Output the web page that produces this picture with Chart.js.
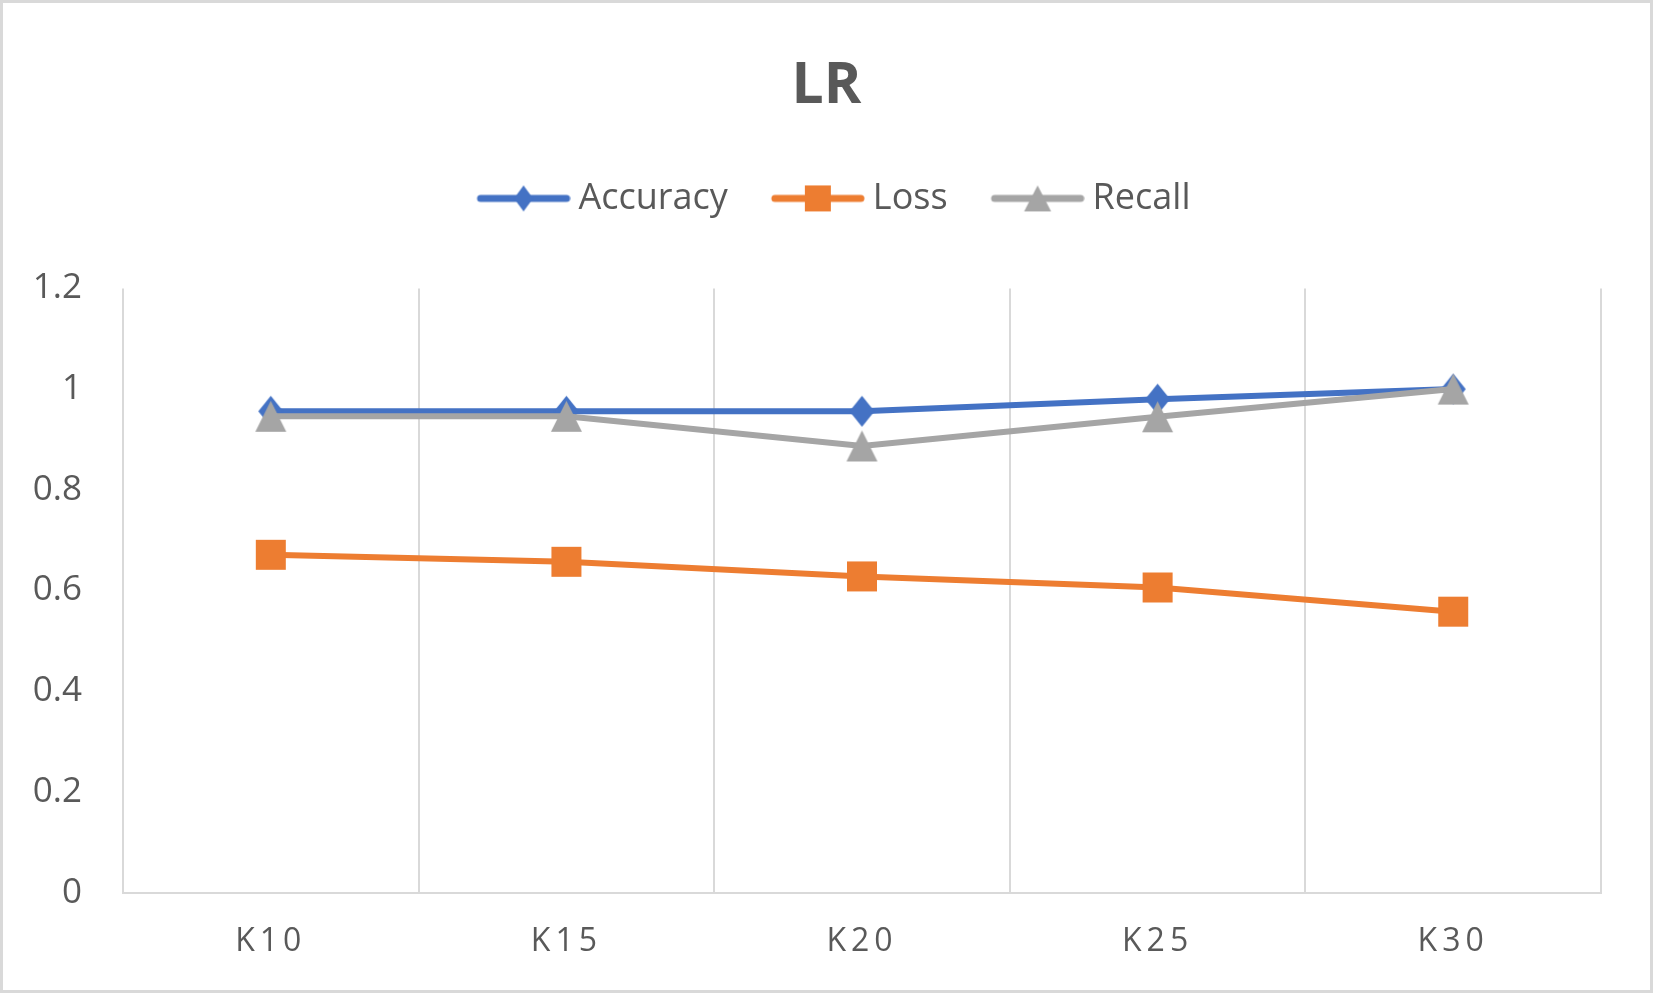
<!DOCTYPE html>
<html>
<head>
<meta charset="utf-8">
<script src="https://cdn.jsdelivr.net/npm/chart.js@4.4.1/dist/chart.umd.min.js"></script>
<style>
  html, body { margin: 0; padding: 0; background: #fff; overflow: hidden; }
  #wrap { width: 1653px; height: 993px; position: relative; }
</style>
</head>
<body>
<div id="wrap"><canvas id="lrChart"></canvas></div>
<script>
// Chart data
const categories = ['K10', 'K15', 'K20', 'K25', 'K30'];
const accuracy = [0.956, 0.956, 0.956, 0.980, 1.0];
const loss = [0.671, 0.657, 0.628, 0.606, 0.558];
const recall = [0.946, 0.946, 0.887, 0.945, 1.0];
const yTicks = [0, 0.2, 0.4, 0.6, 0.8, 1, 1.2];

const BLUE = '#4472C4';
const ORANGE = '#ED7D31';
const GRAY = '#A5A5A5';
const TEXT = '#595959';
const GRID = '#D9D9D9';

// Marker shapes drawn onto small canvases, used as point styles
function makeCanvas(w, h) {
    const c = document.createElement('canvas');
    c.width = w;
    c.height = h;
    return c;
}

function drawShape(ctx, shape, cx, cy, w, h, color) {
    ctx.fillStyle = color;
    ctx.beginPath();
    if (shape === 'diamond') {
        ctx.moveTo(cx, cy - h / 2);
        ctx.lineTo(cx + w / 2, cy);
        ctx.lineTo(cx, cy + h / 2);
        ctx.lineTo(cx - w / 2, cy);
    } else if (shape === 'square') {
        ctx.rect(cx - w / 2, cy - h / 2, w, h);
    } else {
        ctx.moveTo(cx, cy - h / 2);
        ctx.lineTo(cx + w / 2, cy + h / 2);
        ctx.lineTo(cx - w / 2, cy + h / 2);
    }
    ctx.closePath();
    ctx.fill();
}

function markerImage(shape, w, h, color) {
    const c = makeCanvas(w + 2, h + 2);
    drawShape(c.getContext('2d'), shape, (w + 2) / 2, (h + 2) / 2, w, h, color);
    return c;
}

// legend swatch: line with marker, shifted right inside the canvas
function legendImage(shape, w, h, color) {
    const c = makeCanvas(118, 32);
    const ctx = c.getContext('2d');
    ctx.strokeStyle = color;
    ctx.lineWidth = 7;
    ctx.lineCap = 'round';
    ctx.beginPath();
    ctx.moveTo(28, 16);
    ctx.lineTo(114, 16);
    ctx.stroke();
    drawShape(ctx, shape, 71, 16, w, h, color);
    return c;
}

const series = [
    { label: 'Accuracy', data: accuracy, color: BLUE, shape: 'diamond', size: [25, 31], legendSize: [19, 26], order: 2 },
    { label: 'Loss', data: loss, color: ORANGE, shape: 'square', size: [30, 30], legendSize: [26, 26], order: 1 },
    { label: 'Recall', data: recall, color: GRAY, shape: 'triangle', size: [31, 31], legendSize: [27, 26], order: 0 }
];

series.forEach(s => {
    s.marker = markerImage(s.shape, s.size[0], s.size[1], s.color);
    s.legendMarker = legendImage(s.shape, s.legendSize[0], s.legendSize[1], s.color);
});

// White background and light outer frame
const frame = {
    id: 'frame',
    beforeDraw(chart) {
        const ctx = chart.ctx;
        ctx.save();
        ctx.fillStyle = '#ffffff';
        ctx.fillRect(0, 0, chart.width, chart.height);
        ctx.strokeStyle = GRID;
        ctx.lineWidth = 3;
        ctx.strokeRect(1.5, 1.5, chart.width - 3, chart.height - 3);
        ctx.restore();
    }
};

// Extra room between legend and plot area
const legendGap = {
    id: 'legendGap',
    afterInit(chart) {
        const legend = chart.legend;
        const fit = legend.fit;
        legend.fit = function() {
            fit.call(this);
            this.height += 62;
        };
    }
};

// Spaced-out category labels (drawn in the x tick layer after datasets)
const spacedLabels = {
    id: 'spacedLabels',
    afterDatasetsDraw(chart) {
        chart.ctx.letterSpacing = '5px';
    },
    afterDraw(chart) {
        chart.ctx.letterSpacing = '0px';
    }
};

const ctx = document.getElementById('lrChart').getContext('2d');

new Chart(ctx, {
    type: 'line',
    data: {
        labels: categories,
        datasets: series.map(s => ({
            label: s.label,
            data: s.data,
            borderColor: s.color,
            backgroundColor: s.color,
            borderWidth: 6,
            pointStyle: s.marker,
            pointRadius: 16,
            pointHoverRadius: 16,
            tension: 0,
            fill: false,
            order: s.order
        }))
    },
    options: {
        responsive: true,
        maintainAspectRatio: false,
        animation: false,
        layout: {
            padding: { top: 0, left: 0, right: 0, bottom: 2 }
        },
        plugins: {
            title: {
                display: true,
                text: 'LR',
                color: TEXT,
                font: { family: 'Open Sans', size: 57, weight: 'bold' },
                padding: { top: 53, bottom: 30 }
            },
            legend: {
                display: true,
                position: 'top',
                labels: {
                    usePointStyle: true,
                    pointStyleWidth: 98,
                    padding: 29,
                    color: TEXT,
                    font: { family: 'Open Sans', size: 36 },
                    generateLabels: function(chart) {
                        return series.map((s, i) => ({
                            text: s.label,
                            fillStyle: s.color,
                            strokeStyle: s.color,
                            fontColor: TEXT,
                            lineWidth: 0,
                            pointStyle: s.legendMarker,
                            hidden: false,
                            datasetIndex: i
                        }));
                    }
                }
            },
            tooltip: { enabled: false }
        },
        scales: {
            x: {
                offset: true,
                grid: {
                    display: true,
                    offset: true,
                    color: GRID,
                    lineWidth: 2,
                    drawTicks: false
                },
                border: { display: true, color: GRID, width: 2 },
                ticks: {
                    color: TEXT,
                    font: { family: 'Open Sans', size: 32 },
                    padding: 30,
                    z: 1
                }
            },
            y: {
                min: yTicks[0],
                max: yTicks[yTicks.length - 1],
                grid: { display: false, drawTicks: false },
                border: { display: false },
                afterBuildTicks: function(scale) {
                    scale.ticks = yTicks.map(v => ({ value: v }));
                },
                afterFit: function(scale) {
                    scale.width = 123;
                },
                ticks: {
                    color: TEXT,
                    font: { family: 'Open Sans', size: 35 },
                    padding: 41,
                    callback: function(value) {
                        return String(Math.round(value * 10) / 10);
                    }
                }
            },
            // empty right-hand margin so the title stays centred on the canvas
            yRight: {
                type: 'linear',
                position: 'right',
                grid: { display: false, drawTicks: false },
                border: { display: false },
                ticks: { display: false },
                afterFit: function(scale) {
                    scale.width = 52;
                }
            }
        }
    },
    plugins: [frame, legendGap, spacedLabels]
});
</script>
</body>
</html>
